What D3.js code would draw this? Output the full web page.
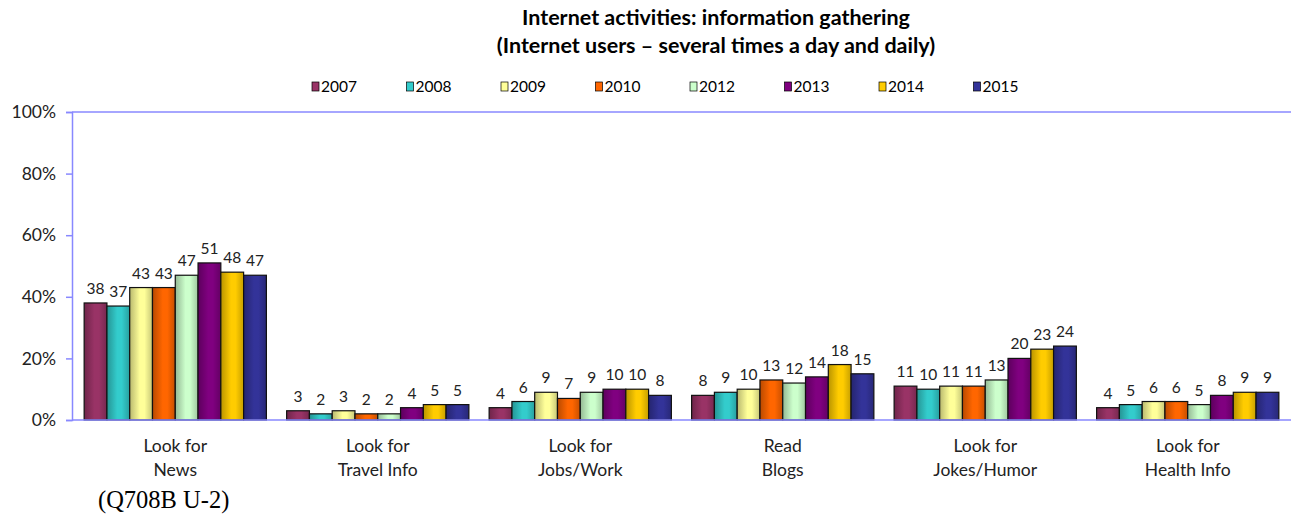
<!DOCTYPE html>
<html><head><meta charset="utf-8">
<script src="https://cdn.jsdelivr.net/npm/d3@7"></script>
<style>body{margin:0;background:#fff}svg{display:block}</style>
</head><body>
<svg id="c" width="1291" height="515"></svg>
<script>
const categories = ["Look for\nNews","Look for\nTravel Info","Look for\nJobs/Work","Read\nBlogs","Look for\nJokes/Humor","Look for\nHealth Info"];
const years = ["2007","2008","2009","2010","2012","2013","2014","2015"];
const colors = ["#993366","#33CCCC","#FFFF99","#FF6600","#CCFFCC","#800080","#FFCC00","#333399"];
const v2007 = [38,3,4,8,11,4];
const v2008 = [37,2,6,9,10,5];
const v2009 = [43,3,9,10,11,6];
const v2010 = [43,2,7,13,11,6];
const v2012 = [47,2,9,12,13,5];
const v2013 = [51,4,10,14,20,8];
const v2014 = [48,5,10,18,23,9];
const v2015 = [47,5,8,15,24,9];
const series = [v2007,v2008,v2009,v2010,v2012,v2013,v2014,v2015];
const yTicks = [0,20,40,60,80,100];

(function(){
const svg = d3.select("#c");
const font = "Lato, 'Open Sans', sans-serif";
const mLeft = 72, mRight = 1291, mTop = 112, mBottom = 420;

const x0 = d3.scaleBand().domain(categories).range([mLeft, mRight]).paddingInner(0.1).paddingOuter(0.06);
const x1 = d3.scaleBand().domain(years).range([0, x0.bandwidth()]);
const y = d3.scaleLinear().domain([0,100]).range([mBottom, mTop]);

const defs = svg.append("defs");
colors.forEach((c,i)=>{
  const g = defs.append("linearGradient").attr("id","g"+i).attr("x1","0").attr("x2","1").attr("y1","0").attr("y2","0");
  g.append("stop").attr("offset","0%").attr("stop-color",d3.color(c).darker(0.9));
  g.append("stop").attr("offset","45%").attr("stop-color",c);
  g.append("stop").attr("offset","65%").attr("stop-color",c);
  g.append("stop").attr("offset","100%").attr("stop-color",d3.color(c).darker(0.7));
});

svg.append("text").attr("x",716).attr("y",25).attr("text-anchor","middle")
  .attr("font-family",font).attr("font-weight","bold").attr("font-size",21.5).text("Internet activities: information gathering");
svg.append("text").attr("x",716).attr("y",53).attr("text-anchor","middle")
  .attr("font-family",font).attr("font-weight","bold").attr("font-size",21.5).text("(Internet users \u2013 several times a day and daily)");

const lg = svg.append("g");
years.forEach((yr,i)=>{
  const lx = 312 + i*94.5;
  lg.append("rect").attr("x",lx).attr("y",82).attr("width",7).attr("height",9)
    .attr("fill",colors[i]).attr("stroke","#000").attr("stroke-width",0.7);
  lg.append("text").attr("x",lx+9).attr("y",92).attr("font-family",font).attr("font-size",15.5).text(yr);
});

const axisColor = "#8888ff";
svg.append("line").attr("x1",mLeft).attr("x2",mRight).attr("y1",y(100)).attr("y2",y(100)).attr("stroke",axisColor).attr("stroke-width",1.5);
const yAxis = svg.append("g").attr("transform",`translate(${mLeft},0)`)
  .call(d3.axisLeft(y).tickValues(yTicks).tickSize(6).tickFormat(d=>d+"%"));
yAxis.select(".domain").attr("stroke",axisColor).attr("stroke-width",1.5);
yAxis.selectAll(".tick line").attr("stroke",axisColor).attr("stroke-width",1.5);
yAxis.selectAll(".tick text").attr("font-family",font).attr("font-size",17.5).attr("fill","#222").attr("x",-16);

const groups = svg.append("g").selectAll("g").data(categories).join("g")
  .attr("transform",d=>`translate(${x0(d)},0)`);
groups.each(function(cat,ci){
  const g = d3.select(this);
  years.forEach((yr,si)=>{
    const val = series[si][ci];
    g.append("rect").attr("x",x1(yr)).attr("y",y(val)).attr("width",x1.bandwidth()).attr("height",y(0)-y(val))
      .attr("fill",`url(#g${si})`).attr("stroke","#111").attr("stroke-width",1.2);
    g.append("text").attr("x",x1(yr)+x1.bandwidth()/2).attr("y",y(val)-9).attr("text-anchor","middle")
      .attr("font-family",font).attr("font-size",15.5).attr("fill","#222").text(val);
  });
});

svg.append("line").attr("x1",mLeft).attr("x2",mRight).attr("y1",y(0)).attr("y2",y(0)).attr("stroke",axisColor).attr("stroke-width",1.5);
const xl = svg.append("g");
categories.forEach(c=>{
  const t = xl.append("text").attr("text-anchor","middle").attr("font-family",font).attr("font-size",17.5).attr("fill","#222");
  c.split("\n").forEach((ln,i)=>{
    t.append("tspan").attr("x",x0(c)+x0.bandwidth()/2).attr("y",452+i*24).text(ln);
  });
});

svg.append("text").attr("x",98).attr("y",508).attr("font-family","'Liberation Serif', serif").attr("font-size",24.5).text("(Q708B U-2)");
})();
</script>
</body></html>
